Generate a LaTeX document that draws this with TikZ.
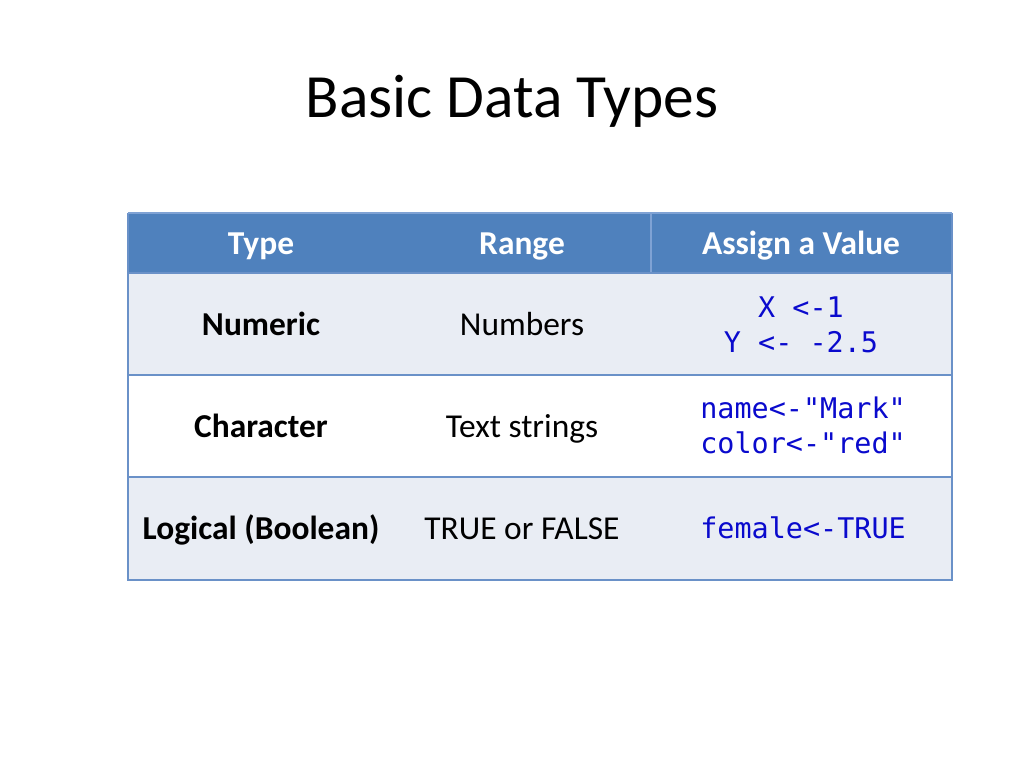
\documentclass[tikz,border=0pt]{standalone}
\usepackage{fontspec}
\setmainfont{Carlito}
\newfontfamily\codefont{DejaVu Sans Mono}
\definecolor{hdrblue}{HTML}{4F81BD}
\definecolor{rowlight}{HTML}{E9EDF4}
\definecolor{gridblue}{HTML}{6A91C8}
\definecolor{sepblue}{HTML}{7FA2D4}
\definecolor{codeblue}{RGB}{10,10,205}
\tikzset{
  celltext/.style={inner sep=0pt, anchor=base, font=\fontsize{23.5}{28}\selectfont},
  hdrtext/.style={celltext, text=white, font=\fontsize{23.5}{28}\selectfont\bfseries},
  boldtext/.style={celltext, font=\fontsize{23.5}{28}\selectfont\bfseries},
  codetext/.style={inner sep=0pt, text=codeblue, font=\codefont\fontsize{20}{24}\selectfont},
  gridline/.style={draw=gridblue, line width=1.2pt},
}
\begin{document}
\begin{tikzpicture}[x=0.703125pt,y=-0.703125pt]
\useasboundingbox (0,0) rectangle (1024,768);
\fill[white] (0,0) rectangle (1024,768);
% title
\node[inner sep=0pt, anchor=base, font=\fontsize{43.2}{50}\selectfont] (title) at (512,118) {Basic Data Types};
% fills
\fill[hdrblue] (128,213) rectangle (952,273);
\fill[rowlight] (128,273) rectangle (952,375);
\fill[white] (128,375) rectangle (952,477);
\fill[rowlight] (128,477) rectangle (952,580);
% grid
\draw[sepblue, line width=0.8pt] (651,214) -- (651,272);
\draw[gridline] (128,273) -- (952,273);
\draw[gridline] (128,375) -- (952,375);
\draw[gridline] (128,477) -- (952,477);
\draw[gridline] (128,213) -- (128,580) -- (952,580) -- (952,213);
\draw[draw=sepblue, line width=0.8pt] (128,213) -- (952,213);
% header
\node[hdrtext] (h1) at (261,255) {Type};
\node[hdrtext] (h2) at (522,255) {Range};
\node[hdrtext] (h3) at (801,255) {Assign a Value};
% row 1
\node[boldtext] (t1) at (261,335) {Numeric};
\node[celltext] (r1) at (522,335) {Numbers};
\node[codetext, anchor=base] (a1) at (801,317) {X <-1};
\node[codetext, anchor=base] (a1b) at (801,352) {Y <- -2.5};
% row 2
\node[boldtext] (t2) at (261,437) {Character};
\node[celltext] (r2) at (522,437) {Text strings};
\node[codetext, anchor=base west] (a2) at (700,418) {name<-"Mark"};
\node[codetext, anchor=base west] (a2b) at (700,453) {color<-"red"};
% row 3
\node[boldtext] (t3) at (261,539) {Logical (Boolean)};
\node[celltext] (r3) at (522,539) {TRUE or FALSE};
\node[codetext, anchor=base west] (a3) at (700,538) {female<-TRUE};
\end{tikzpicture}
\end{document}
